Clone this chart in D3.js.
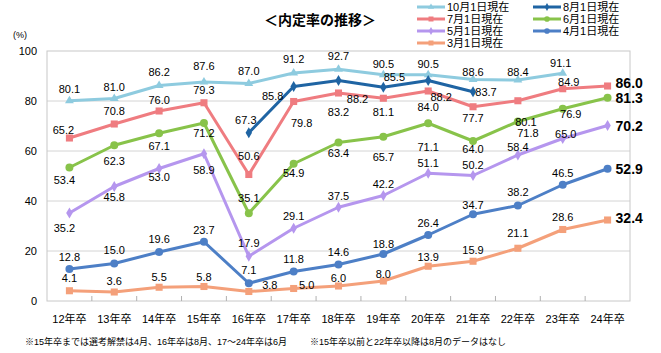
<!DOCTYPE html>
<html>
<head>
<meta charset="utf-8">
<script src="https://cdn.jsdelivr.net/npm/d3@7"></script>
<style>
  body { margin: 0; background: #fff; }
  text { font-family: "Liberation Sans", Arial, "Noto Sans CJK JP", sans-serif; }
</style>
</head>
<body>
<svg id="chart"></svg>
<script>
const width = 661; // pixels
const height = 353; // pixels

const years = ["12年卒", "13年卒", "14年卒", "15年卒", "16年卒", "17年卒", "18年卒",
  "19年卒", "20年卒", "21年卒", "22年卒", "23年卒", "24年卒"];
const yTicks = [0, 20, 40, 60, 80, 100];

const oct1 = [80.1, 81.0, 86.2, 87.6, 87.0, 91.2, 92.7, 90.5, 90.5, 88.6, 88.4, 91.1, null];
const aug1 = [null, null, null, null, 67.3, 85.8, 88.2, 85.5, 88.2, 83.7, null, null, null];
const jul1 = [65.2, 70.8, 76.0, 79.3, 50.6, 79.8, 83.2, 81.1, 84.0, 77.7, 80.1, 84.9, 86.0];
const jun1 = [53.4, 62.3, 67.1, 71.2, 35.1, 54.9, 63.4, 65.7, 71.1, 64.0, 71.8, 76.9, 81.3];
const may1 = [35.2, 45.8, 53.0, 58.9, 17.9, 29.1, 37.5, 42.2, 51.1, 50.2, 58.4, 65.0, 70.2];
const apr1 = [12.8, 15.0, 19.6, 23.7, 7.1, 11.8, 14.6, 18.8, 26.4, 34.7, 38.2, 46.5, 52.9];
const mar1 = [4.1, 3.6, 5.5, 5.8, 3.8, 5.0, 6.0, 8.0, 13.9, 15.9, 21.1, 28.6, 32.4];

const notes = [
  "※15年卒までは選考解禁は4月、16年卒は8月、17～24年卒は6月",
  "※15年卒以前と22年卒以降は8月のデータはなし"
];

// label nudges [dx, dy] from the point (text centre), missing = default above
const nudges = {
  oct: [[0,-12],[0,-11.5],[0,-13.5],[0,-16],[0,-12.5],[0,-14],[0,-13],[0,-11],[0,-11],[0,-7.5],[0,-8],[-2,-10]],
  aug: {4: [-3,-13], 5: [-21,9.5], 6: [19,18.5], 7: [11,-10], 8: [13,16.5], 9: [13,0]},
  jul: [[-6,-8],[0,-13],[0,-11],[0,-13],[0,-18.5],[8,21.5],[0,19],[0,14],[0,16],[0,11],[8,21],[6,-7]],
  jun: [[-5,12.5],[0,16],[0,13],[0,10],[0,-15],[0,9],[0,10.5],[0,20],[0,24],[0,8],[10,11],[8,5]],
  may: [[-5,15],[0,10.5],[0,8.5],[0,16],[0,-13],[0,-12],[0,-11],[0,-11.5],[0,-10],[0,-10.5],[0,-8],[3,-4.5]],
  apr: [[0,-12],[0,-13.5],[0,-13],[0,-12],[0,-13],[0,-12.5],[0,-12.5],[0,-10],[0,-12],[0,-9],[0,-13.5],[0,-12]],
  mar: [[0,-13],[0,-11],[0,-10],[0,-9.5],[21,-6.5],[13,-3.5],[0,-8],[0,-7],[0,-9],[0,-11],[0,-15],[0,-12.5]]
};
const endNudge = {jul: -3, jun: 0, may: 0, apr: 0, mar: -2};

const series = [
  {key: "oct", name: "10月1日現在", values: oct1, color: "#8ecbdf", shape: "triangle"},
  {key: "mar", name: "3月1日現在", values: mar1, color: "#f4a07a", shape: "square"},
  {key: "apr", name: "4月1日現在", values: apr1, color: "#4d7fc6", shape: "circle"},
  {key: "may", name: "5月1日現在", values: may1, color: "#b596ee", shape: "diamond"},
  {key: "jun", name: "6月1日現在", values: jun1, color: "#88c34a", shape: "circle"},
  {key: "jul", name: "7月1日現在", values: jul1, color: "#ef7c80", shape: "square"},
  {key: "aug", name: "8月1日現在", values: aug1, color: "#1f64a3", shape: "diamond"}
];

const legendOrder = [["oct", "jul", "may", "mar"], ["aug", "jun", "apr"]];

const symbolSize = {triangle: 34, square: 50, circle: 50, diamond: 36};
const symbolType = {triangle: d3.symbolTriangle, square: d3.symbolSquare, circle: d3.symbolCircle, diamond: d3.symbolDiamond};

const svg = d3.select("#chart").attr("width", width).attr("height", height);

const x = d3.scalePoint(years, [47, 630]).padding(0.5);
const band = d3.scaleBand(years, [47, 630]);
const y = d3.scaleLinear([0, 100], [301, 51]);

/**
 * Grid, frame and axes.
 */
svg.append("g")
  .selectAll("line")
  .data(yTicks.filter(d => d > 0 && d < 100))
  .join("line")
  .attr("x1", 47).attr("x2", 630)
  .attr("y1", d => y(d)).attr("y2", d => y(d))
  .attr("stroke", "#d4d4d4");

svg.append("rect")
  .attr("x", 47).attr("y", y(100))
  .attr("width", 583).attr("height", y(0) - y(100))
  .attr("fill", "none").attr("stroke", "#c8c8c8");

svg.append("g")
  .selectAll("line")
  .data(years.slice(1))
  .join("line")
  .attr("x1", d => band(d)).attr("x2", d => band(d))
  .attr("y1", y(0)).attr("y2", y(0) - 5)
  .attr("stroke", "#b0b0b0");

svg.append("g")
  .selectAll("text")
  .data(yTicks)
  .join("text")
  .attr("x", 37).attr("y", d => y(d) + 4)
  .attr("text-anchor", "end")
  .attr("font-size", 11)
  .text(d => d);

svg.append("text")
  .attr("x", 20).attr("y", 38)
  .attr("text-anchor", "middle")
  .attr("font-size", 9)
  .text("(%)");

svg.append("g")
  .selectAll("text")
  .data(years)
  .join("text")
  .attr("x", d => x(d)).attr("y", 323)
  .attr("text-anchor", "middle")
  .attr("font-size", 11)
  .text(d => d);

svg.append("text")
  .attr("x", 25).attr("y", 345)
  .attr("font-size", 9)
  .text(notes[0]);
svg.append("text")
  .attr("x", 310).attr("y", 345)
  .attr("font-size", 9)
  .text(notes[1]);

/**
 * Title and legend.
 */
svg.append("text")
  .attr("x", 320).attr("y", 25)
  .attr("text-anchor", "middle")
  .attr("font-size", 14)
  .attr("font-weight", "bold")
  .attr("font-family", "'Noto Sans CJK JP'")
  .text("＜内定率の推移＞");

const byKey = Object.fromEntries(series.map(s => [s.key, s]));
legendOrder.forEach((col, ci) => {
  col.forEach((key, ri) => {
    const s = byKey[key];
    const lx = ci === 0 ? 417 : 533;
    const ly = 7 + ri * 12;
    const g = svg.append("g");
    g.append("line")
      .attr("x1", lx).attr("x2", lx + 28)
      .attr("y1", ly).attr("y2", ly)
      .attr("stroke", s.color).attr("stroke-width", 3);
    g.append("path")
      .attr("transform", `translate(${lx + 14},${ly})`)
      .attr("d", d3.symbol(symbolType[s.shape], symbolSize[s.shape] * 0.5)())
      .attr("fill", s.color);
    g.append("text")
      .attr("x", lx + 30).attr("y", ly + 4)
      .attr("font-size", 11)
      .text(s.name);
  });
});

/**
 * Lines, markers and value labels.
 */
const line = d3.line()
  .defined(d => d.v != null)
  .x(d => x(d.year))
  .y(d => y(d.v));

series.forEach(s => {
  const pts = s.values.map((v, i) => ({year: years[i], v, i}));
  const g = svg.append("g");
  g.append("path")
    .datum(pts)
    .attr("fill", "none")
    .attr("stroke", s.color)
    .attr("stroke-width", 3)
    .attr("stroke-linejoin", "round")
    .attr("d", line);

  g.selectAll("path.mark")
    .data(pts.filter(d => d.v != null))
    .join("path")
    .attr("class", "mark")
    .attr("transform", d => `translate(${x(d.year)},${y(d.v)})`)
    .attr("d", d3.symbol(symbolType[s.shape], symbolSize[s.shape])())
    .attr("fill", s.color);

  g.selectAll("text")
    .data(pts.filter(d => d.v != null))
    .join("text")
    .each(function(d) {
      const t = d3.select(this);
      if (d.i === 12) {
        t.attr("x", x(d.year) + 8)
          .attr("y", y(d.v) + endNudge[s.key] + 5)
          .attr("font-size", 14)
          .attr("font-weight", "bold")
          .attr("text-anchor", "start");
      } else {
        const n = nudges[s.key][d.i] || [0, -12];
        t.attr("x", x(d.year) + n[0])
          .attr("y", y(d.v) + n[1] + 4)
          .attr("font-size", 11)
          .attr("text-anchor", "middle");
      }
    })
    .text(d => d.v.toFixed(1));
});
</script>
</body>
</html>
